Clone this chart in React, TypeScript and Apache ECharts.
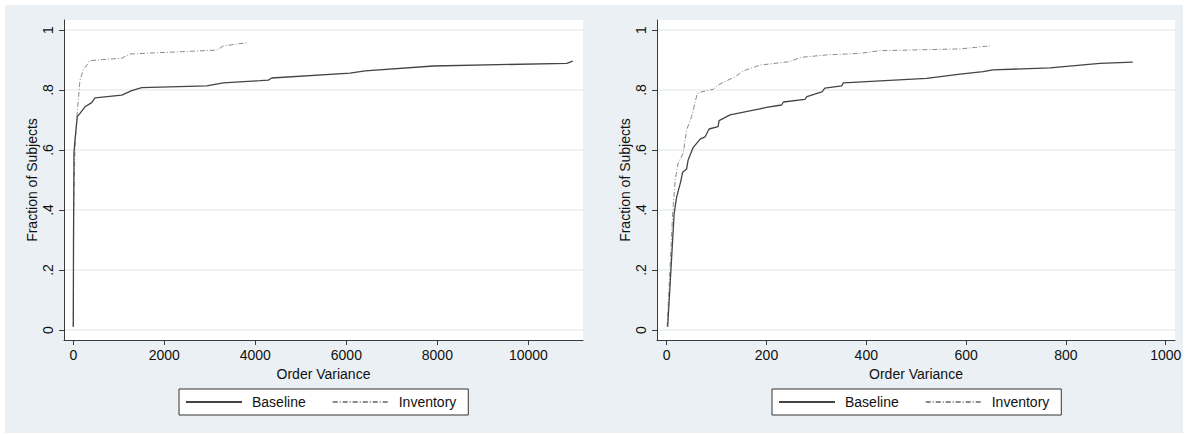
import React, { useEffect, useRef } from "react";
import * as echarts from "echarts";

const leftBaselineX = [0, 5, 15, 37, 88, 147, 257, 404, 477, 1064, 1283, 1503, 2932, 3297, 4103, 4286, 4360, 6081, 6411, 7912, 10844, 10976];
const leftBaselineY = [0.011, 0.3, 0.589, 0.633, 0.711, 0.722, 0.744, 0.758, 0.774, 0.783, 0.798, 0.808, 0.814, 0.824, 0.831, 0.833, 0.84, 0.856, 0.864, 0.88, 0.889, 0.896];
const leftInventoryX = [0, 10, 37, 74, 147, 220, 367, 1064, 1246, 3152, 3297, 3846];
const leftInventoryY = [0.011, 0.4, 0.61, 0.7, 0.833, 0.867, 0.898, 0.906, 0.92, 0.933, 0.947, 0.958];

const rightBaselineX = [2, 15, 20, 28, 32, 40, 43, 53, 67, 77, 85, 103, 105, 127, 184, 200, 230, 234, 277, 281, 311, 317, 351, 354, 521, 588, 634, 654, 768, 868, 934];
const rightBaselineY = [0.011, 0.389, 0.444, 0.494, 0.526, 0.537, 0.567, 0.608, 0.636, 0.644, 0.67, 0.678, 0.698, 0.717, 0.736, 0.742, 0.75, 0.76, 0.769, 0.778, 0.794, 0.806, 0.814, 0.824, 0.839, 0.853, 0.861, 0.867, 0.874, 0.889, 0.893];
const rightInventoryX = [1, 12, 17, 23, 33, 40, 50, 61, 70, 93, 103, 137, 154, 187, 244, 270, 321, 387, 427, 588, 648];
const rightInventoryY = [0.011, 0.389, 0.5, 0.556, 0.589, 0.667, 0.711, 0.787, 0.794, 0.802, 0.817, 0.844, 0.864, 0.883, 0.894, 0.909, 0.917, 0.922, 0.931, 0.937, 0.947];

const yTicks = [0, 0.2, 0.4, 0.6, 0.8, 1];
const yTickLabels = ["0", ".2", ".4", ".6", ".8", "1"];
const leftXTicks = [0, 2000, 4000, 6000, 8000, 10000];
const rightXTicks = [0, 200, 400, 600, 800, 1000];
const seriesNames = ["Baseline", "Inventory"];
const xAxisTitle = "Order Variance";
const yAxisTitle = "Fraction of Subjects";

const FONT = "'Liberation Sans', Arial, Helvetica, sans-serif";
const zip = (xs: number[], ys: number[]) => xs.map((x, i) => [x, ys[i]]);

export default function App() {
  const ref = useRef<HTMLDivElement>(null);
  useEffect(() => {
    if (!ref.current) return;
    const chart = echarts.init(ref.current, undefined, { renderer: "svg" });
    const axisLineStyle = { color: "#3a3a3a", width: 1 };
    const mkX = (idx: number, min: number, max: number, ticks: number[]) => ({
      type: "value",
      gridIndex: idx,
      min,
      max,
      name: xAxisTitle,
      nameLocation: "middle",
      nameGap: 24,
      nameTextStyle: { fontFamily: FONT, fontSize: 14, color: "#111" },
      axisLine: { show: true, onZero: false, lineStyle: axisLineStyle },
      axisTick: { show: true, length: 5, lineStyle: axisLineStyle, customValues: ticks },
      axisLabel: {
        customValues: ticks,
        margin: 8,
        fontFamily: FONT,
        fontSize: 14,
        color: "#111",
        formatter: (v: number) => String(Math.round(v)),
      },
      splitLine: { show: false },
    });
    const mkY = (idx: number) => ({
      type: "value",
      gridIndex: idx,
      min: -1 / 30,
      max: 31 / 30,
      name: yAxisTitle,
      nameLocation: "middle",
      nameGap: 25,
      nameTextStyle: { fontFamily: FONT, fontSize: 14, color: "#111" },
      axisLine: { show: true, onZero: false, lineStyle: axisLineStyle },
      axisTick: { show: true, length: 5, lineStyle: axisLineStyle, customValues: yTicks },
      axisLabel: {
        customValues: yTicks,
        rotate: 90,
        margin: 9,
        fontFamily: FONT,
        fontSize: 14,
        color: "#111",
        formatter: (v: number) => {
          const i = yTicks.findIndex((t) => Math.abs(t - v) < 1e-9);
          return i >= 0 ? yTickLabels[i] : "";
        },
      },
      splitLine: { show: true, lineStyle: { color: "#e9f0f2", width: 1.5 } },
    });
    const baseStyle = { color: "#444444", width: 1.3, type: "solid" };
    const invStyle = { color: "#8a8a8a", width: 1, type: [5, 2, 1, 2] };
    const mkSeries = (name: string, idx: number, data: number[][], style: any) => ({
      type: "line",
      name,
      xAxisIndex: idx,
      yAxisIndex: idx,
      data,
      symbol: "none",
      showSymbol: false,
      lineStyle: style,
      itemStyle: { color: style.color },
      z: name === seriesNames[0] ? 3 : 2,
    });
    const mkLegend = (left: number) => ({
      left,
      top: 389,
      orient: "horizontal",
      data: seriesNames,
      itemWidth: 56,
      itemHeight: 14,
      itemGap: 26,
      padding: [6, 12, 6, 6],
      borderColor: "#333",
      borderWidth: 1,
      backgroundColor: "#ffffff",
      selectedMode: false,
      itemStyle: { color: "transparent", borderColor: "transparent", borderWidth: 0, opacity: 0 },
      textStyle: { fontFamily: FONT, fontSize: 14, color: "#111", padding: [0, 0, 0, 5] },
    });
    chart.setOption({
      animation: false,
      backgroundColor: "#ffffff",
      graphic: [
        {
          type: "rect",
          shape: { x: 5, y: 5, width: 1178, height: 428 },
          style: { fill: "#eaf0f3" },
          z: -10,
          silent: true,
        },
      ],
      grid: [
        { left: 64, top: 20, width: 519, height: 320, show: true, backgroundColor: "#ffffff", borderWidth: 0 },
        { left: 657, top: 20, width: 518, height: 320, show: true, backgroundColor: "#ffffff", borderWidth: 0 },
      ],
      xAxis: [mkX(0, -204, 11200, leftXTicks), mkX(1, -19.4, 1018.6, rightXTicks)],
      yAxis: [mkY(0), mkY(1)],
      legend: [mkLegend(179), mkLegend(772)],
      series: [
        mkSeries(seriesNames[0], 0, zip(leftBaselineX, leftBaselineY), baseStyle),
        mkSeries(seriesNames[1], 0, zip(leftInventoryX, leftInventoryY), invStyle),
        mkSeries(seriesNames[0], 1, zip(rightBaselineX, rightBaselineY), baseStyle),
        mkSeries(seriesNames[1], 1, zip(rightInventoryX, rightInventoryY), invStyle),
      ],
    });
    return () => chart.dispose();
  }, []);
  return (
    <div
      ref={ref}
      style={{ position: "absolute", left: 0, top: 0, width: 1185, height: 434 }}
    />
  );
}
